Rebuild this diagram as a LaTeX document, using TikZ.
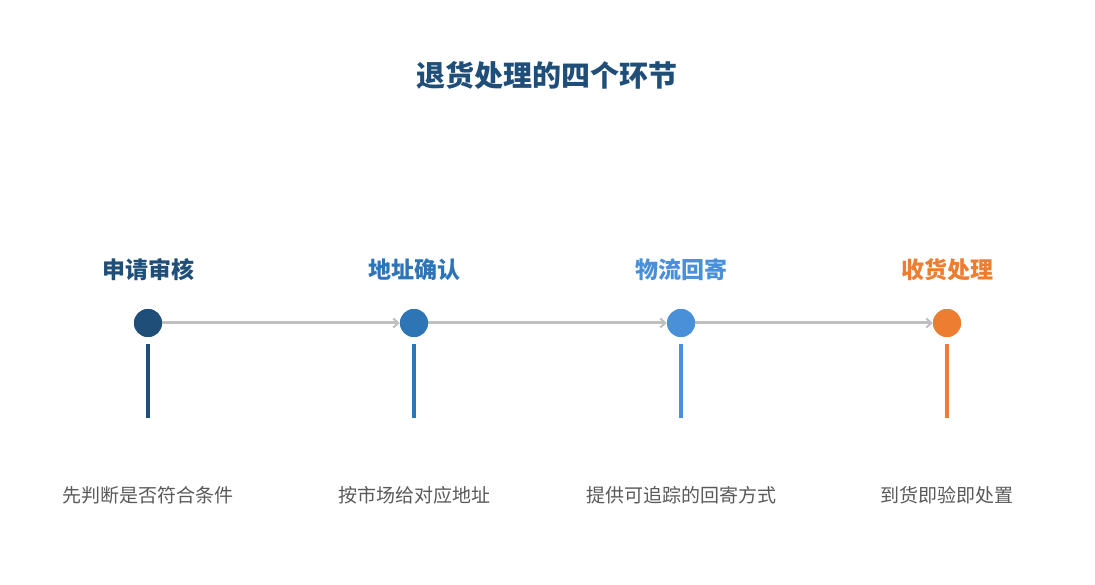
\documentclass[tikz,border=0pt]{standalone}
\usepackage{fontspec}
\newfontfamily\cjk{Noto Sans CJK SC}
\usetikzlibrary{arrows.meta}
\definecolor{cA}{HTML}{1F4E79}
\definecolor{cB}{HTML}{2E75B6}
\definecolor{cC}{HTML}{4A90D9}
\definecolor{cD}{HTML}{ED7D31}
\definecolor{lineg}{HTML}{BFBFBF}
\definecolor{txtg}{HTML}{595959}
\tikzset{
  dot/.style={circle, fill=#1, minimum size=28pt, inner sep=0pt},
  head/.style={text=#1, font=\cjk\bfseries\fontsize{23}{27}\selectfont, inner sep=0pt},
  desc/.style={text=txtg, font=\cjk\fontsize{19}{23}\selectfont, inner sep=0pt},
  link/.style={draw=lineg, line width=3pt, -{Straight Barb[length=5pt,width=9pt,line width=2pt]}},
  stem/.style={draw=#1, line width=4pt},
}
\begin{document}
\begin{tikzpicture}[x=1pt,y=-1pt]
\useasboundingbox (0,0) rectangle (1095,585);
\node[text=cA, font=\cjk\bfseries\fontsize{29}{33}\selectfont, inner sep=0pt] (title) at (547,75) {退货处理的四个环节};
\node[head=cA] (h1) at (148,270) {申请审核};
\node[head=cB] (h2) at (414,270) {地址确认};
\node[head=cC] (h3) at (681,270) {物流回寄};
\node[head=cD] (h4) at (947,270) {收货处理};
\node[dot=cA] (d1) at (148,323) {};
\node[dot=cB] (d2) at (414,323) {};
\node[dot=cC] (d3) at (681,323) {};
\node[dot=cD] (d4) at (947,323) {};
\draw[link] (d1) -- (d2);
\draw[link] (d2) -- (d3);
\draw[link] (d3) -- (d4);
\node[dot=cA] at (d1) {};
\node[dot=cB] at (d2) {};
\node[dot=cC] at (d3) {};
\node[dot=cD] at (d4) {};
\draw[stem=cA] ([yshift=-7pt]d1.south) -- ++(0,74);
\draw[stem=cB] ([yshift=-7pt]d2.south) -- ++(0,74);
\draw[stem=cC] ([yshift=-7pt]d3.south) -- ++(0,74);
\draw[stem=cD] ([yshift=-7pt]d4.south) -- ++(0,74);
\node[desc] (t1) at (148,495) {先判断是否符合条件};
\node[desc] (t2) at (414,495) {按市场给对应地址};
\node[desc] (t3) at (681,495) {提供可追踪的回寄方式};
\node[desc] (t4) at (947,495) {到货即验即处置};
\end{tikzpicture}
\end{document}
